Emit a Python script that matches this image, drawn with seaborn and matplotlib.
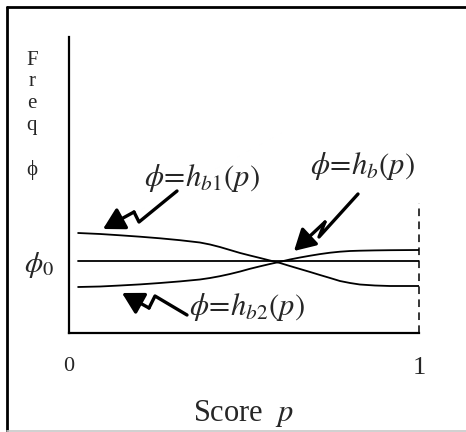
import numpy as np
import pandas as pd
import matplotlib
matplotlib.use("Agg")
import matplotlib.pyplot as plt
from matplotlib.lines import Line2D
from matplotlib.patches import FancyArrowPatch
import seaborn as sns

# Score axis samples and the three frequency curves
p_vals = [0.026, 0.089, 0.146, 0.203, 0.260, 0.317, 0.374, 0.403, 0.431, 0.460,
          0.489, 0.517, 0.546, 0.574, 0.603, 0.631, 0.660, 0.689, 0.717, 0.746,
          0.774, 0.803, 0.831, 0.874, 0.917, 1.0]
hb1_vals = [1.00, 0.99, 0.977, 0.963, 0.947, 0.928, 0.905, 0.885, 0.86, 0.83,
            0.80, 0.775, 0.75, 0.725, 0.70, 0.67, 0.64, 0.61, 0.58, 0.55,
            0.52, 0.50, 0.485, 0.475, 0.47, 0.47]
hb2_vals = [0.46, 0.465, 0.475, 0.486, 0.50, 0.516, 0.535, 0.55, 0.568, 0.59,
            0.615, 0.642, 0.667, 0.69, 0.712, 0.735, 0.755, 0.773, 0.789, 0.803,
            0.813, 0.82, 0.823, 0.826, 0.828, 0.83]
phi0 = 0.72
hb_vals = [phi0] * len(p_vals)

curve_names = ["hb1", "hb", "hb2"]
x_ticks = [0, 1]
x_tick_labels = ["0", "1"]
x_label = "Score  $p$"
y_label = "F\nr\ne\nq\n\n\u03d5"
curve_labels = [r"$\phi\!=\!h_{b\mathit{1}}(p)$", r"$\phi\!=\!h_{b}(p)$", r"$\phi\!=\!h_{b\mathit{2}}(p)$"]

df = pd.DataFrame({
    "p": p_vals * 3,
    "phi": hb1_vals + hb_vals + hb2_vals,
    "curve": [n for n in curve_names for _ in p_vals],
})

sns.set_style("white")
plt.rcParams["font.family"] = ["Liberation Serif", "DejaVu Serif"]
plt.rcParams["mathtext.fontset"] = "stix"

W, H = 466, 432
fig = plt.figure(figsize=(W / 100, H / 100), dpi=100)


def fx(x, y):
    """pixel position (from top-left) -> figure fraction"""
    return (x / W, 1 - y / H)


ax = fig.add_axes([69 / W, (H - 333) / H, 350 / W, 296 / H])
sns.lineplot(data=df, x="p", y="phi", hue="curve", units="curve", estimator=None,
             palette={n: "black" for n in curve_names}, legend=False, sort=False,
             linewidth=1.3, ax=ax)

ax.set_xlim(0, 1)
ax.set_ylim(0, 2.96)
for s in ["top", "right"]:
    ax.spines[s].set_visible(False)
for s in ["left", "bottom"]:
    ax.spines[s].set_color("black")
    ax.spines[s].set_linewidth(1.6)

# dashed right-hand boundary at p = 1
ax.vlines(1, 0, 1.30, colors="black", linestyles=(0, (5, 3.5)), linewidth=1.1, clip_on=False)

ax.set_xticks(x_ticks)
ax.set_xticklabels(x_tick_labels)
ax.tick_params(axis="x", length=0, pad=17)
xl = ax.get_xticklabels()
xl[0].set_fontsize(16)
xl[1].set_fontsize(19)

ax.set_yticks([phi0])
ax.set_yticklabels([r"$\phi_0$"], fontsize=21)
ax.tick_params(axis="y", length=0, pad=11)

ax.set_xlabel(x_label, fontsize=22, labelpad=14)
ax.set_ylabel(y_label, rotation=0, fontsize=15, linespacing=1.2, va="center", ha="center")
ax.yaxis.set_label_coords(-0.106, 0.736)

# curve labels
label_pos = [(202, 178), (363, 166), (247, 307)]
for txt, (x, y) in zip(curve_labels, label_pos):
    fig.text(*fx(x, y), txt, fontsize=22, ha="center", va="center")

# lightning-style pointer arrows
arrow_paths = [
    [(177, 191), (139, 222), (134, 212), (103, 229)],
    [(358, 194), (319, 237), (325, 222), (294, 251)],
    [(187, 315), (155, 296), (149, 308), (122, 293)],
]
for path in arrow_paths:
    pts = [fx(x, y) for x, y in path]
    xs, ys = zip(*pts[:-1])
    fig.add_artist(Line2D(xs, ys, color="black", linewidth=2.4,
                          solid_joinstyle="round", solid_capstyle="round"))
    fig.add_artist(FancyArrowPatch(pts[-2], pts[-1], transform=fig.transFigure,
                                   arrowstyle="-|>,head_length=0.8,head_width=0.45",
                                   mutation_scale=16, color="black", linewidth=2.4,
                                   shrinkA=0, shrinkB=0))

# frame around the figure
fig.add_artist(Line2D([7 / W, 7 / W], [1 - 7 / H, 1 - 431 / H], color="black", linewidth=2.0))
fig.add_artist(Line2D([7 / W, 1], [1 - 7 / H, 1 - 7 / H], color="black", linewidth=2.0))
fig.add_artist(Line2D([7 / W, 1], [1 - 431 / H, 1 - 431 / H], color="#c8c8c8", linewidth=1.2))

fig.savefig("out.png", dpi=100)
